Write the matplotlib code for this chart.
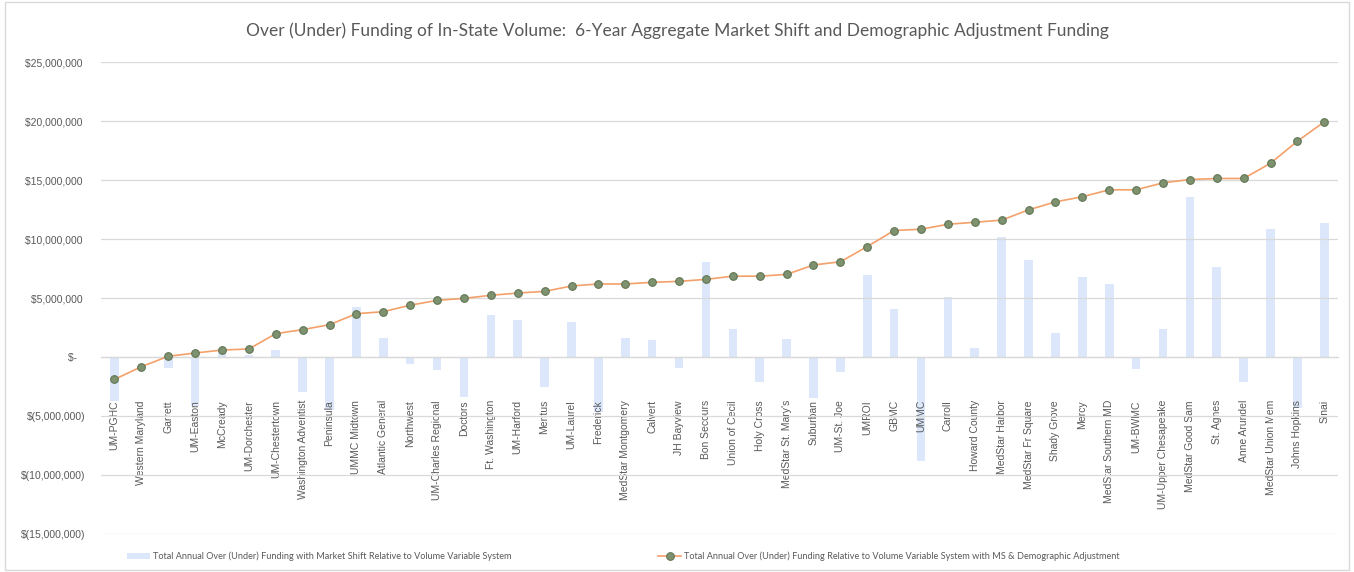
import matplotlib
matplotlib.use("Agg")
import matplotlib.pyplot as plt
from matplotlib.ticker import FuncFormatter, MultipleLocator
from matplotlib.patches import Rectangle

hospitals = [
    "UM-PGHC", "Western Maryland", "Garrett", "UM-Easton", "McCready", "UM-Dorchester",
    "UM-Chestertown", "Washington Adventist", "Peninsula", "UMMC Midtown", "Atlantic General",
    "Northwest", "UM-Charles Regional", "Doctors", "Ft. Washington", "UM-Harford", "Meritus",
    "UM-Laurel", "Frederick", "MedStar Montgomery", "Calvert", "JH Bayview", "Bon Secours",
    "Union of Cecil", "Holy Cross", "MedStar St. Mary's", "Suburban", "UM-St. Joe", "UMROI",
    "GBMC", "UMMC", "Carroll", "Howard County", "MedStar Harbor", "MedStar Fr Square",
    "Shady Grove", "Mercy", "MedStar Southern MD", "UM-BWMC", "UM-Upper Chesapeake",
    "MedStar Good Sam", "St. Agnes", "Anne Arundel", "MedStar Union Mem", "Johns Hopkins", "Sinai",
]

# Total Annual Over (Under) Funding with Market Shift (bars)
market_shift = [
    -3.7e6, -0.1e6, -0.9e6, -4.15e6, 0.5e6, 0.15e6,
    0.6e6, -2.95e6, -4.45e6, 4.25e6, 1.65e6,
    -0.55e6, -1.1e6, -3.4e6, 3.6e6, 3.1e6, -2.55e6,
    3.0e6, -4.7e6, 1.65e6, 1.4e6, -0.9e6, 8.05e6,
    2.4e6, -2.1e6, 1.55e6, -3.5e6, -1.25e6, 6.95e6,
    4.05e6, -8.8e6, 5.1e6, 0.8e6, 10.2e6, 8.25e6,
    2.0e6, 6.8e6, 6.2e6, -1.0e6, 2.35e6,
    13.6e6, 7.65e6, -2.1e6, 10.85e6, -4.3e6, 11.35e6,
]

# Total Annual Over (Under) Funding with MS & Demographic Adjustment (line)
ms_demo = [
    -1.9e6, -0.82e6, 0.06e6, 0.34e6, 0.59e6, 0.68e6,
    1.98e6, 2.32e6, 2.74e6, 3.67e6, 3.84e6,
    4.39e6, 4.8e6, 4.97e6, 5.23e6, 5.42e6, 5.56e6,
    6.02e6, 6.19e6, 6.19e6, 6.33e6, 6.41e6, 6.58e6,
    6.85e6, 6.85e6, 7.0e6, 7.8e6, 8.07e6, 9.36e6,
    10.72e6, 10.83e6, 11.25e6, 11.42e6, 11.6e6, 12.47e6,
    13.15e6, 13.58e6, 14.17e6, 14.17e6, 14.76e6,
    15.04e6, 15.13e6, 15.13e6, 16.42e6, 18.29e6, 19.93e6,
]

title = "Over (Under) Funding of In-State Volume:  6-Year Aggregate Market Shift and Demographic Adjustment Funding"
bar_label = "Total Annual Over (Under) Funding with Market Shift Relative to Volume Variable System"
line_label = "Total Annual Over (Under) Funding Relative to Volume Variable System with MS & Demographic Adjustment"

TXT = "#595959"
GRID = "#d9d9d9"

fig = plt.figure(figsize=(13.54, 5.72), dpi=100)
fig.patches.append(Rectangle((0.004, 0.004), 0.992, 0.992, transform=fig.transFigure,
                             fill=False, edgecolor=GRID, linewidth=1.0))
ax = fig.add_axes([0.0746, 0.0664, 0.9134, 0.8252])

x = list(range(len(hospitals)))
bars = ax.bar(x, market_shift, width=0.32, color="#dce7fb", zorder=1, label=bar_label)
line, = ax.plot(x, ms_demo, color="#f4a06a", linewidth=1.2, marker="o", markersize=5.5,
                markerfacecolor="#7e9270", markeredgecolor="#5f7553", markeredgewidth=0.8,
                zorder=4, label=line_label)

ax.set_xlim(-0.5, len(hospitals) - 0.5)
ax.set_ylim(-15e6, 25e6)
ax.yaxis.set_major_locator(MultipleLocator(5e6))


def money(v, pos):
    if abs(v) < 1:
        return "$-   "
    if v < 0:
        return "$({:,.0f})".format(-v)
    return "${:,.0f} ".format(v)


ax.yaxis.set_major_formatter(FuncFormatter(money))
ax.grid(axis="y", color=GRID, linewidth=0.9)
ax.set_axisbelow(False)
for s in ["top", "right", "left"]:
    ax.spines[s].set_visible(False)
ax.spines["bottom"].set_position(("data", 0))
ax.spines["bottom"].set_color(GRID)
ax.spines["bottom"].set_linewidth(0.9)

ax.set_xticks(x)
ax.set_xticklabels(hospitals, rotation=90, fontsize=7.5, color=TXT, family="Liberation Sans")
ax.tick_params(axis="x", length=0, pad=31)
ax.tick_params(axis="y", length=0, pad=11, labelsize=7.5, labelcolor=TXT)
for lab in ax.get_yticklabels():
    lab.set_family("Liberation Sans")

fig.text(0.5, 0.947, title, ha="center", va="center", fontsize=12.5, color=TXT, family="Lato")

leg = fig.legend(handles=[bars, line], labels=[bar_label, line_label],
                 loc="center left", bbox_to_anchor=(0.088, 0.027), ncol=2, frameon=False,
                 prop={"family": "Lato", "size": 6.6}, handlelength=2.5, handletextpad=0.3,
                 columnspacing=16.0, labelcolor=TXT)

fig.savefig("out.png", dpi=100)
